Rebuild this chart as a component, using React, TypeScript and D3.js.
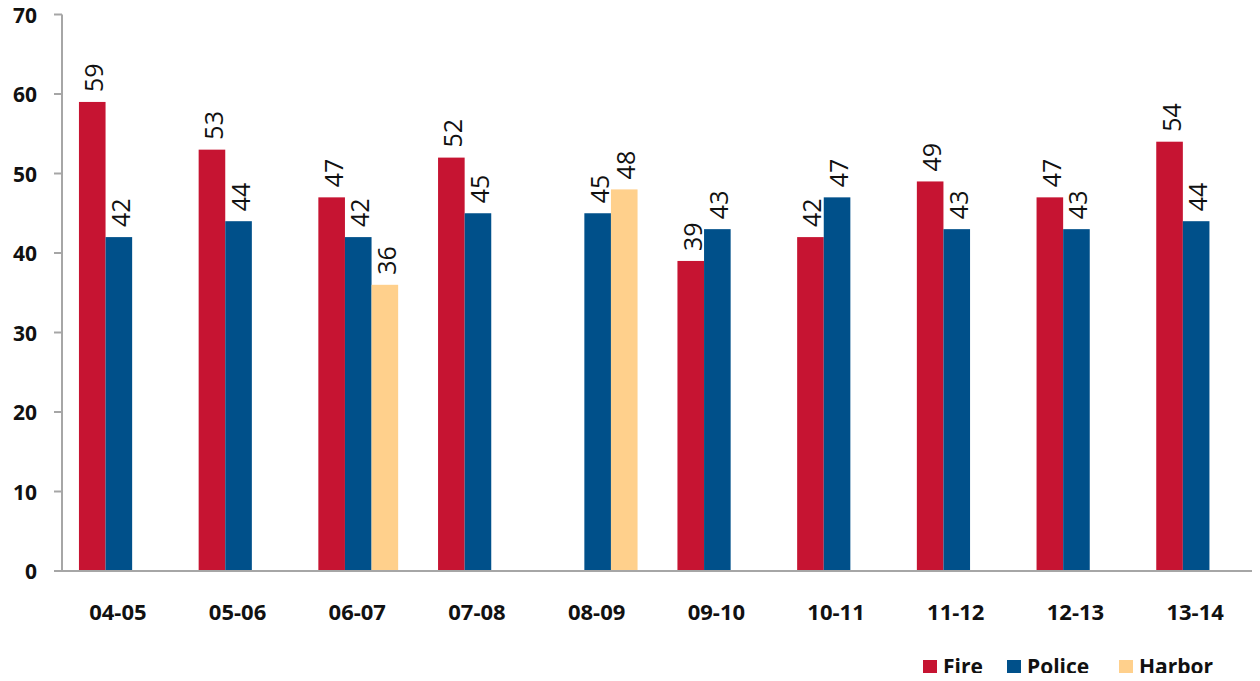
import React from "react";
import * as d3 from "d3";

// Fiscal years and department values
const categories = ["04-05", "05-06", "06-07", "07-08", "08-09", "09-10", "10-11", "11-12", "12-13", "13-14"];
const seriesNames = ["Fire", "Police", "Harbor"];
const fireValues: (number | null)[] = [59, 53, 47, 52, null, 39, 42, 49, 47, 54];
const policeValues: (number | null)[] = [42, 44, 42, 45, 45, 43, 47, 43, 43, 44];
const harborValues: (number | null)[] = [null, null, 36, null, 48, null, null, null, null, null];
const yTicks = [0, 10, 20, 30, 40, 50, 60, 70];
const seriesColors = ["#C61432", "#00508A", "#FFD08C"];

const W = 1260;
const H = 681;
const FONT = "'Open Sans', 'Noto Sans', sans-serif";

export default function App() {
  const seriesValues = [fireValues, policeValues, harborValues];

  const x = d3.scaleBand<string>().domain(categories).range([59, 1256]).paddingInner(0).paddingOuter(0);
  const inner = d3
    .scaleBand<string>()
    .domain(seriesNames)
    .range([0, x.bandwidth()])
    .paddingOuter(0.75)
    .paddingInner(0);
  const y = d3.scaleLinear().domain([0, 70]).range([571, 14.5]);

  const axisX = 62;
  const axisColor = "#A6A6A6";

  return (
    <div style={{ margin: -8, width: W, height: H, overflow: "hidden" }}>
      <svg width={W} height={H} style={{ display: "block", background: "#fff" }} fontFamily={FONT}>
        {/* y axis */}
        <line x1={axisX} x2={axisX} y1={y(70)} y2={y(0)} stroke={axisColor} strokeWidth={2} />
        {yTicks.map((t) => (
          <g key={t}>
            <line x1={axisX - 8} x2={axisX} y1={y(t)} y2={y(t)} stroke={axisColor} strokeWidth={2} />
            <text
              x={37}
              y={y(t)}
              textAnchor="end"
              dominantBaseline="central"
              fontSize={21}
              fontWeight={700}
              fill="#111"
            >
              {t}
            </text>
          </g>
        ))}

        {/* bars */}
        {seriesValues.map((vals, si) =>
          vals.map((v, ci) => {
            if (v === null) return null;
            const bx = (x(categories[ci]) as number) + (inner(seriesNames[si]) as number);
            const bw = inner.bandwidth();
            return (
              <rect
                key={`${si}-${ci}`}
                x={bx}
                y={y(v)}
                width={bw}
                height={y(0) - y(v)}
                fill={seriesColors[si]}
              />
            );
          })
        )}

        {/* x axis */}
        <line x1={axisX - 8} x2={1258} y1={y(0)} y2={y(0)} stroke={axisColor} strokeWidth={2} />

        {/* value labels */}
        {seriesValues.map((vals, si) =>
          vals.map((v, ci) => {
            if (v === null) return null;
            const cx = (x(categories[ci]) as number) + (inner(seriesNames[si]) as number) + inner.bandwidth() / 2 + 1;
            const ty = y(v) - 10;
            return (
              <text
                key={`l-${si}-${ci}`}
                transform={`translate(${cx},${ty}) rotate(-90)`}
                textAnchor="start"
                dominantBaseline="central"
                fontSize={25}
                fontWeight={500}
                fill="#111"
              >
                {d3.format("d")(v)}
              </text>
            );
          })
        )}

        {/* category labels */}
        {categories.map((c) => (
          <text
            key={c}
            x={(x(c) as number) + x.bandwidth() / 2 - 1}
            y={611}
            textAnchor="middle"
            dominantBaseline="central"
            fontSize={22}
            fontWeight={700}
            fill="#111"
          >
            {c}
          </text>
        ))}

        {/* legend */}
        {seriesNames.map((name, i) => {
          const lx = [923, 1007, 1119][i];
          return (
            <g key={name}>
              <rect x={lx} y={660} width={14} height={14} fill={seriesColors[i]} />
              <text x={lx + 20} y={674} fontSize={21} fontWeight={700} fill="#111">
                {name}
              </text>
            </g>
          );
        })}
      </svg>
    </div>
  );
}
